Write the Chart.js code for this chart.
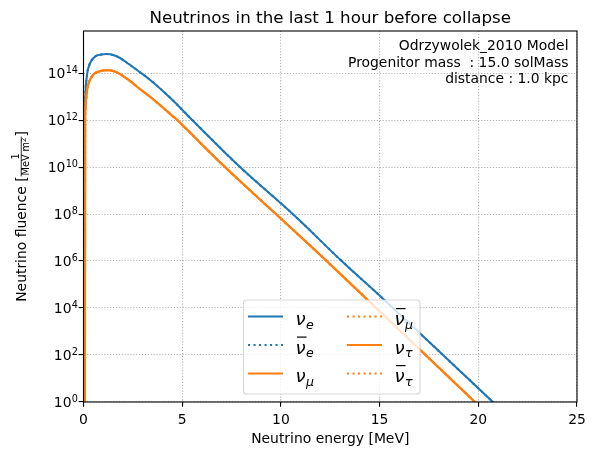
<!DOCTYPE html>
<html>
<head>
<meta charset="utf-8">
<script src="https://cdn.jsdelivr.net/npm/chart.js@4"></script>
<style>
  body { margin: 0; background: #fff; }
  canvas { display: block; }
</style>
</head>
<body>
<canvas id="fluenceChart" width="597" height="459"></canvas>
<script>
// Values (MeV, 1/(MeV m^2)); the first point of each curve is the clipped zero
const energyE = [0.075, 0.08, 0.11, 0.16, 0.24, 0.41, 0.66, 0.9, 1.17, 1.5, 1.85, 2.3, 2.76, 3.5, 4.39, 5.48, 7.93, 10.6, 13.08, 15.19, 20.74, 21.3];
const fluenceE = [1e-30, 2.2e12, 2.2e13, 6.3e13, 1.6e14, 3.5e14, 5.5e14, 6.2e14, 6.5e14, 5.9e14, 4.4e14, 2.4e14, 1.26e14, 4.2e13, 8.9e12, 1.07e12, 1.0e10, 1.0e8, 1.0e6, 2.4e4, 1.0, 0.35];

const energyX = [0.075, 0.08, 0.15, 0.22, 0.32, 0.57, 0.99, 1.2, 1.5, 1.85, 2.3, 2.76, 3.5, 4.38, 4.75, 7.17, 9.75, 12.32, 19.83, 20.4];
const fluenceX = [1e-30, 1.26e12, 1.15e13, 2.8e13, 5.0e13, 9.8e13, 1.29e14, 1.32e14, 1.23e14, 9.1e13, 5.0e13, 2.45e13, 8.1e12, 1.86e12, 1.0e12, 1.0e10, 1.0e8, 1.0e6, 1.0, 0.35];

const xTicks = [0, 5, 10, 15, 20, 25];
const yExponents = [0, 2, 4, 6, 8, 10, 12, 14];

const BLUE = '#1f77b4';
const ORANGE = '#ff7f0e';
const FONT = '"DejaVu Sans", sans-serif';
const DOT = [2.08, 3.43];

// Flavours in the order they were plotted
const flavours = [
  { sub: 'e', anti: false, color: BLUE, dotted: false, energy: energyE, fluence: fluenceE },
  { sub: 'e', anti: true, color: BLUE, dotted: true, energy: energyE, fluence: fluenceE },
  { sub: 'μ', anti: false, color: ORANGE, dotted: false, energy: energyX, fluence: fluenceX },
  { sub: 'μ', anti: true, color: ORANGE, dotted: true, energy: energyX, fluence: fluenceX },
  { sub: 'τ', anti: false, color: ORANGE, dotted: false, energy: energyX, fluence: fluenceX },
  { sub: 'τ', anti: true, color: ORANGE, dotted: true, energy: energyX, fluence: fluenceX }
];

// Draw a nu label with subscript and optional bar
function drawNu(ctx, x, base, sub, anti) {
  ctx.font = 'italic 18px ' + FONT;
  ctx.textAlign = 'left';
  ctx.textBaseline = 'alphabetic';
  ctx.fillText('ν', x, base);
  const w = ctx.measureText('ν').width;
  if (anti) ctx.fillRect(x + 1.5, base - 17, w - 0.5, 1.2);
  ctx.font = 'italic 12.6px ' + FONT;
  ctx.fillText(sub, x + w + 0.5, base + 3.5);
}

const decorations = {
  id: 'decorations',
  afterDatasetsDraw(chart) {
    const { ctx, chartArea: a } = chart;
    ctx.save();
    ctx.strokeStyle = '#000';
    ctx.lineWidth = 1.1;
    ctx.strokeRect(a.left, a.top, a.right - a.left, a.bottom - a.top);
    ctx.restore();
  },
  afterDraw(chart) {
    const { ctx, chartArea: a } = chart;
    const cx = (a.left + a.right) / 2;
    ctx.save();
    ctx.fillStyle = '#000';

    // y tick labels as 10 with a raised exponent
    const yScale = chart.scales.y;
    yExponents.forEach(e => {
      const py = yScale.getPixelForValue(Math.pow(10, e));
      const sup = String(e);
      ctx.textBaseline = 'alphabetic';
      ctx.textAlign = 'right';
      ctx.font = '9.7px ' + FONT;
      const wSup = ctx.measureText(sup).width;
      ctx.fillText(sup, 78, py - 0.5);
      ctx.font = '13.9px ' + FONT;
      ctx.fillText('10', 78 - wSup - 0.3, py + 5);
    });

    // title and x label
    ctx.textAlign = 'center';
    ctx.textBaseline = 'alphabetic';
    ctx.font = '16.7px ' + FONT;
    ctx.fillText('Neutrinos in the last 1 hour before collapse', cx, 23);
    ctx.font = '13.9px ' + FONT;
    ctx.fillText('Neutrino energy [MeV]', cx, 443);

    // model annotation
    ctx.textAlign = 'right';
    ctx.fillText('Odrzywolek_2010 Model', 568.5, 50);
    ctx.fillText('Progenitor mass  : 15.0 solMass', 568.5, 66.5);
    ctx.fillText('distance : 1.0 kpc', 568.5, 83);

    // y label with fraction
    ctx.save();
    ctx.translate(20.5, (a.top + a.bottom) / 2);
    ctx.rotate(-Math.PI / 2);
    ctx.textAlign = 'left';
    const main = 'Neutrino fluence [';
    ctx.font = '13.9px ' + FONT;
    const wMain = ctx.measureText(main).width;
    const wClose = ctx.measureText(']').width;
    ctx.font = '9.7px ' + FONT;
    const wDen = ctx.measureText('MeV m').width;
    const wOne = ctx.measureText('1').width;
    ctx.font = '6.8px ' + FONT;
    const wSq = ctx.measureText('2').width;
    const fracW = wDen + wSq + 2;
    let x0 = -(wMain + fracW + wClose) / 2;
    ctx.font = '13.9px ' + FONT;
    ctx.fillText(main, x0, 5);
    x0 += wMain;
    ctx.fillRect(x0, 0.3, fracW, 0.8);
    ctx.font = '9.7px ' + FONT;
    ctx.fillText('1', x0 + (fracW - wOne) / 2, -1.8);
    ctx.fillText('MeV m', x0 + 1, 8.6);
    ctx.font = '6.8px ' + FONT;
    ctx.fillText('2', x0 + 1 + wDen, 5);
    x0 += fracW;
    ctx.font = '13.9px ' + FONT;
    ctx.fillText(']', x0, 5);
    ctx.restore();

    // legend box
    const bx = 243.5, by = 300, bw = 176.5, bh = 94, r = 3;
    ctx.beginPath();
    ctx.roundRect(bx, by, bw, bh, r);
    ctx.fillStyle = 'rgba(255,255,255,0.8)';
    ctx.fill();
    ctx.strokeStyle = 'rgba(204,204,204,0.8)';
    ctx.lineWidth = 1.1;
    ctx.stroke();

    const rows = [316.5, 345, 373.5];
    const cols = [248, 347];
    flavours.forEach((f, i) => {
      const col = Math.floor(i / 3), row = i % 3;
      const ly = rows[row], lx = cols[col];
      ctx.beginPath();
      ctx.moveTo(lx, ly);
      ctx.lineTo(lx + 35, ly);
      ctx.strokeStyle = f.color;
      ctx.lineWidth = 2.08;
      ctx.setLineDash(f.dotted ? DOT : []);
      ctx.stroke();
      ctx.setLineDash([]);
      ctx.fillStyle = '#000';
      drawNu(ctx, lx + 47.5, ly + 8.5, f.sub, f.anti);
    });
    ctx.restore();
  }
};

const datasets = flavours.map((f, i) => ({
  data: f.energy.map((e, k) => ({ x: e, y: f.fluence[k] })),
  borderColor: f.color,
  borderWidth: 2.08,
  borderDash: f.dotted ? DOT : [],
  pointRadius: 0,
  fill: false,
  order: flavours.length - i,
  tension: 0.4
}));

const gridOpts = {
  color: '#b0b0b0',
  lineWidth: 1.1,
  drawTicks: true,
  tickLength: 4.86,
  tickColor: '#000',
  tickWidth: 1.1,
  tickBorderDash: []
};

new Chart(document.getElementById('fluenceChart').getContext('2d'), {
  type: 'line',
  data: { datasets },
  options: {
    responsive: false,
    animation: false,
    devicePixelRatio: 1,
    layout: { padding: { top: 31, right: 20, left: 0, bottom: 0 } },
    plugins: { legend: { display: false }, tooltip: { enabled: false }, title: { display: false } },
    scales: {
      x: {
        type: 'linear',
        min: 0,
        max: 25,
        bounds: 'data',
        afterBuildTicks: s => { s.ticks = xTicks.map(v => ({ value: v })); },
        afterFit: s => { s.height = 57; },
        grid: gridOpts,
        border: { display: false, dash: [1.1, 1.8] },
        ticks: { color: '#000', font: { family: FONT, size: 13.9 }, padding: 5.5, maxRotation: 0, autoSkip: false }
      },
      y: {
        type: 'logarithmic',
        min: 1,
        max: 6.2e15,
        bounds: 'data',
        afterBuildTicks: s => { s.ticks = yExponents.map(e => ({ value: Math.pow(10, e) })); },
        afterFit: s => { s.width = 83.5; },
        grid: gridOpts,
        border: { display: false, dash: [1.1, 1.8] },
        ticks: { display: false }
      }
    }
  },
  plugins: [decorations]
});
</script>
</body>
</html>
